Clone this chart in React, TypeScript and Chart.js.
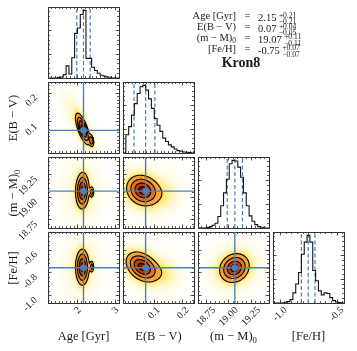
import React, { useEffect, useRef } from "react";
import { Chart, registerables } from "chart.js";

Chart.register(...registerables);

// ---------------- values ----------------
const AGE_RANGE = [1.2, 3.1];
const EBV_RANGE = [-0.007, 0.238];
const DM_RANGE = [18.66, 19.45];
const FEH_RANGE = [-1.065, -0.44];

const AGE_TICKS = [2, 3];
const EBV_TICKS = [0.1, 0.2];
const DM_TICKS = [18.75, 19.0, 19.25];
const FEH_TICKS = [-1.0, -0.8, -0.6];
const FEH_DIAG_TICKS = [-1.0, -0.5];
const HIST_TICKS = [0.35, 0.7];

const AGE_MINOR = 0.1;
const EBV_MINOR = 0.0125;
const DM_MINOR = 0.05;
const FEH_MINOR = 0.04;
const FEH_DIAG_MINOR = 0.05;
const HIST_MINOR = 0.07;
const HIST_YMAX = 1.05;

// 16th / 50th / 84th percentiles (dashed lines) ; median = cross-hair
const AGE_Q = [1.97, 2.15, 2.33];
const EBV_Q = [0.031, 0.071, 0.103];
const DM_Q = [18.985, 19.07, 19.155];
const FEH_Q = [-0.815, -0.755, -0.695];

// 1-D marginal histograms (25 bins, normalised to peak)
const AGE_HIST_RANGE = [1.228, 3.128];
const EBV_HIST_RANGE = [-0.007, 0.238];
const DM_HIST_RANGE = [18.66, 19.45];
const FEH_HIST_RANGE = [-1.065, -0.44];

const AGE_HIST = [0, 0, 0, 0.005, 0.015, 0.05, 0.18, 0.06, 0.3, 0.66, 0.74, 0.94, 1.0, 0.29, 0.29, 0.16, 0.11, 0.07, 0.04, 0.03, 0.015, 0.01, 0, 0, 0];
const EBV_HIST = [0, 0.27, 0.39, 0.56, 0.73, 0.88, 0.98, 1.0, 0.93, 0.8, 0.66, 0.51, 0.41, 0.32, 0.22, 0.17, 0.12, 0.09, 0.06, 0.035, 0.025, 0.015, 0.01, 0.005, 0];
const DM_HIST = [0, 0, 0, 0.005, 0.02, 0.04, 0.07, 0.17, 0.33, 0.52, 0.72, 0.95, 1.0, 0.99, 0.9, 0.75, 0.52, 0.33, 0.18, 0.1, 0.05, 0.02, 0.01, 0, 0];
const FEH_HIST = [0, 0, 0, 0, 0.01, 0.02, 0.05, 0.15, 0.28, 0.45, 0.72, 0.9, 1.0, 0.9, 0.48, 0.33, 0.18, 0.12, 0.15, 0.14, 0.08, 0.035, 0.015, 0.005, 0];

// 2-D posterior shapes: [meanX, meanY, sigmaX, sigmaY, rho, weight]
const AGE_EBV_COMP = [
  [2.13, 0.076, 0.088, 0.025, -0.7, 1.0],
  [2.36, 0.036, 0.035, 0.011, -0.3, 0.12],
  [2.0, 0.1, 0.25, 0.06, -0.8, 0.12],
];
const AGE_DM_COMP = [
  [2.12, 19.075, 0.08, 0.09, 0.05, 1.0],
  [2.37, 19.06, 0.028, 0.03, 0, 0.05],
  [2.1, 19.07, 0.3, 0.2, 0, 0.12],
];
const AGE_FEH_COMP = [
  [2.12, -0.75, 0.08, 0.07, 0, 1.0],
  [2.37, -0.745, 0.028, 0.025, 0, 0.05],
  [2.1, -0.75, 0.3, 0.15, 0, 0.12],
];
const EBV_DM_COMP = [
  [0.06, 19.08, 0.025, 0.077, -0.15, 1.0],
  [0.092, 19.05, 0.037, 0.085, -0.1, 0.18],
  [0.08, 19.06, 0.07, 0.18, -0.1, 0.08],
];
const EBV_FEH_COMP = [
  [0.058, -0.745, 0.025, 0.06, -0.35, 1.0],
  [0.092, -0.78, 0.037, 0.062, -0.3, 0.18],
  [0.08, -0.76, 0.07, 0.14, -0.3, 0.08],
];
const DM_FEH_COMP = [
  [19.065, -0.757, 0.075, 0.058, 0.15, 1.0],
  [19.07, -0.76, 0.17, 0.12, 0.1, 0.1],
];

const CONTOUR_LEVELS = [0.118, 0.393, 0.675, 0.865];

const PARAM_NAMES = ["Age [Gyr]", "E(B − V)", "(m − M)", "[Fe/H]"];
const PARAM_SUBS = ["", "", "0", ""];
const SUMMARY_VALUES = ["2.15", "0.07", "19.07", "-0.75"];
const SUMMARY_PLUS = ["+0.21", "+0.04", "+0.11", "+0.07"];
const SUMMARY_MINUS = ["−0.21", "−0.05", "−0.11", "−0.07"];
const CLUSTER_NAME = "Kron8";

// ---------------- styling / layout ----------------
const SERIF = "'Liberation Serif', 'Times New Roman', serif";
const TEXT = "#1a1a1a";
const BLUE = "#4a80bf";
const HIST_LINE = "#141414";
const SPINE = "#333333";
const CONTOUR = "#000000";
const FILL_RGB = [
  [107, 26, 7],
  [181, 64, 15],
  [226, 115, 31],
  [244, 164, 59],
];
const HALO_RGB = [255, 224, 72];

const S = 71;
const COL_X = [48, 123, 198, 273];
const ROW_Y = [7, 82, 157, 232];
const M = 4;
const LEFT_SPACE = 44;
const BOTTOM_SPACE = 30;
const LABEL_OVERFLOW = 16;

const VARS: any[] = [
  { range: AGE_RANGE, ticks: AGE_TICKS, minor: AGE_MINOR, diagTicks: AGE_TICKS, diagMinor: AGE_MINOR, q: AGE_Q, hist: AGE_HIST, histRange: AGE_HIST_RANGE, fmt: (v: number) => v.toFixed(0), xOff: 1.8 },
  { range: EBV_RANGE, ticks: EBV_TICKS, minor: EBV_MINOR, diagTicks: EBV_TICKS, diagMinor: EBV_MINOR, q: EBV_Q, hist: EBV_HIST, histRange: EBV_HIST_RANGE, fmt: (v: number) => v.toFixed(1), xOff: 4.4 },
  { range: DM_RANGE, ticks: DM_TICKS, minor: DM_MINOR, diagTicks: DM_TICKS, diagMinor: DM_MINOR, q: DM_Q, hist: DM_HIST, histRange: DM_HIST_RANGE, fmt: (v: number) => v.toFixed(2), xOff: 8 },
  { range: FEH_RANGE, ticks: FEH_TICKS, minor: FEH_MINOR, diagTicks: FEH_DIAG_TICKS, diagMinor: FEH_DIAG_MINOR, q: FEH_Q, hist: FEH_HIST, histRange: FEH_HIST_RANGE, fmt: (v: number) => v.toFixed(1), xOff: 5.3 },
];

const PAIR_COMPONENTS: any = {
  "01": AGE_EBV_COMP,
  "02": AGE_DM_COMP,
  "03": AGE_FEH_COMP,
  "12": EBV_DM_COMP,
  "13": EBV_FEH_COMP,
  "23": DM_FEH_COMP,
};

function minorTicks(range: number[], step: number) {
  const out: number[] = [];
  const k0 = Math.ceil(range[0] / step - 1e-9);
  const k1 = Math.floor(range[1] / step + 1e-9);
  for (let k = k0; k <= k1; k++) out.push(+(k * step).toFixed(6));
  return out;
}

function axis(key: string, position: string, range: number[], values: number[], len: number, weight: number, size: number, labels: any) {
  return {
    type: "linear",
    axis: key,
    position,
    min: range[0],
    max: range[1],
    bounds: "data",
    grace: 0,
    display: true,
    weight,
    offset: false,
    afterBuildTicks: (s: any) => {
      s.ticks = values.map((v) => ({ value: v }));
    },
    afterFit: (s: any) => {
      if (key === "x") s.height = size;
      else s.width = size;
      s.paddingLeft = 0;
      s.paddingRight = 0;
      s.paddingTop = 0;
      s.paddingBottom = 0;
    },
    grid: {
      display: true,
      drawOnChartArea: false,
      drawTicks: true,
      tickLength: -len,
      tickColor: SPINE,
      tickWidth: 0.8,
      color: "rgba(0,0,0,0)",
    },
    border: { display: weight === 1, color: SPINE, width: 1 },
    ticks: labels
      ? {
          display: true,
          autoSkip: false,
          minRotation: 45,
          maxRotation: 45,
          padding: labels.padding,
          labelOffset: labels.offset,
          color: TEXT,
          font: { family: SERIF, size: 10 },
          callback: (v: any) => labels.fmt(Number(v)),
        }
      : { display: false },
  };
}

function buildOptions(c: number, r: number, isHist: boolean, extraBottom: number) {
  const xv = VARS[c];
  const yv = VARS[r];
  const showX = r === 3;
  const showY = c === 0 && r > 0;
  const xTicks = isHist ? xv.diagTicks : xv.ticks;
  const xMinor = minorTicks(xv.range, isHist ? xv.diagMinor : xv.minor);
  const yRange = isHist ? [0, HIST_YMAX] : yv.range;
  const yTicks = isHist ? HIST_TICKS : yv.ticks;
  const yMinor = minorTicks(yRange, isHist ? HIST_MINOR : yv.minor);
  const xLab = showX ? { padding: 4.8, offset: xv.xOff, fmt: xv.fmt } : null;
  const yLab = showY ? { padding: 15.5, offset: 3, fmt: yv.fmt } : null;
  return {
    responsive: false,
    maintainAspectRatio: false,
    animation: false,
    events: [],
    layout: { padding: { left: M, right: M, top: M, bottom: M + extraBottom }, autoPadding: false },
    plugins: { legend: { display: false }, tooltip: { enabled: false }, title: { display: false } },
    scales: {
      x: axis("x", "bottom", xv.range, xTicks, 3.5, 1, showX ? BOTTOM_SPACE : 0, xLab),
      xm: axis("x", "bottom", xv.range, xMinor, 2, 0, 0, null),
      xt: axis("x", "top", xv.range, xTicks, 3.5, 1, 0, null),
      xtm: axis("x", "top", xv.range, xMinor, 2, 0, 0, null),
      y: axis("y", "left", yRange, yTicks, 3.5, 1, showY ? LEFT_SPACE : 0, yLab),
      ym: axis("y", "left", yRange, yMinor, 2, 0, 0, null),
      yr: axis("y", "right", yRange, yTicks, 3.5, 1, 0, null),
      yrm: axis("y", "right", yRange, yMinor, 2, 0, 0, null),
    },
  };
}

function mixDensity(comps: number[][], x: number, y: number) {
  let s = 0;
  for (const [mx, my, sx, sy, rho, w] of comps) {
    const dx = (x - mx) / sx;
    const dy = (y - my) / sy;
    const q = (dx * dx - 2 * rho * dx * dy + dy * dy) / (1 - rho * rho);
    s += (w * Math.exp(-0.5 * q)) / (sx * sy * Math.sqrt(1 - rho * rho));
  }
  return s;
}

function densityColor(d: number, thr: number[]) {
  for (let k = 0; k < 4; k++) if (d >= thr[k]) return FILL_RGB[k];
  const f = Math.pow(Math.max(d, 0) / thr[3], 0.7);
  return [255 + (HALO_RGB[0] - 255) * f, 255 + (HALO_RGB[1] - 255) * f, 255 + (HALO_RGB[2] - 255) * f];
}

function makeDensityPlugin(comps: number[][]) {
  let state: any = null;
  return {
    id: "densityField",
    beforeDraw(chart: any) {
      const area = chart.chartArea;
      const xs = chart.scales.x;
      const ys = chart.scales.y;
      const x0 = Math.round(area.left);
      const y0 = Math.round(area.top);
      const W = Math.round(area.right - area.left);
      const H = Math.round(area.bottom - area.top);
      const val = (px: number, py: number) => mixDensity(comps, xs.getValueForPixel(px), ys.getValueForPixel(py));
      const V = new Float64Array(W * H);
      for (let j = 0; j < H; j++) for (let i = 0; i < W; i++) V[j * W + i] = val(x0 + i + 0.5, y0 + j + 0.5);
      const sorted = Array.from(V).sort((a, b) => b - a);
      const total = sorted.reduce((a, b) => a + b, 0);
      const thr = CONTOUR_LEVELS.map((L) => {
        let cum = 0;
        for (const s of sorted) {
          cum += s;
          if (cum >= L * total) return s;
        }
        return sorted[sorted.length - 1];
      });
      const off = document.createElement("canvas");
      off.width = W;
      off.height = H;
      const octx = off.getContext("2d") as CanvasRenderingContext2D;
      const img = octx.createImageData(W, H);
      const SS = 3;
      for (let j = 0; j < H; j++) {
        for (let i = 0; i < W; i++) {
          let rr = 0, gg = 0, bb = 0;
          for (let sj = 0; sj < SS; sj++) {
            for (let si = 0; si < SS; si++) {
              const col = densityColor(val(x0 + i + (si + 0.5) / SS, y0 + j + (sj + 0.5) / SS), thr);
              rr += col[0];
              gg += col[1];
              bb += col[2];
            }
          }
          const p = (j * W + i) * 4;
          img.data[p] = rr / (SS * SS);
          img.data[p + 1] = gg / (SS * SS);
          img.data[p + 2] = bb / (SS * SS);
          img.data[p + 3] = 255;
        }
      }
      octx.putImageData(img, 0, 0);
      chart.ctx.drawImage(off, x0, y0);
      state = { V, W, H, x0, y0, thr };
    },
    beforeDatasetsDraw(chart: any) {
      if (!state) return;
      const { V, W, H, x0, y0, thr } = state;
      const area = chart.chartArea;
      const ctx = chart.ctx;
      ctx.save();
      ctx.beginPath();
      ctx.rect(area.left, area.top, area.right - area.left, area.bottom - area.top);
      ctx.clip();
      ctx.strokeStyle = CONTOUR;
      ctx.lineWidth = 1.1;
      ctx.lineCap = "round";
      ctx.lineJoin = "round";
      ctx.beginPath();
      const P = (gx: number, gy: number) => [x0 + gx + 0.5, y0 + gy + 0.5];
      const seg = (a: number[], b: number[]) => {
        const pa = P(a[0], a[1]);
        const pb = P(b[0], b[1]);
        ctx.moveTo(pa[0], pa[1]);
        ctx.lineTo(pb[0], pb[1]);
      };
      for (const lev of thr) {
        for (let j = 0; j < H - 1; j++) {
          for (let i = 0; i < W - 1; i++) {
            const a = V[j * W + i];
            const b = V[j * W + i + 1];
            const c = V[(j + 1) * W + i + 1];
            const d = V[(j + 1) * W + i];
            const idx = (a >= lev ? 8 : 0) | (b >= lev ? 4 : 0) | (c >= lev ? 2 : 0) | (d >= lev ? 1 : 0);
            if (idx === 0 || idx === 15) continue;
            const t = (v1: number, v2: number) => (lev - v1) / (v2 - v1);
            const top = [i + t(a, b), j];
            const right = [i + 1, j + t(b, c)];
            const bottom = [i + t(d, c), j + 1];
            const left = [i, j + t(a, d)];
            switch (idx) {
              case 1: case 14: seg(left, bottom); break;
              case 2: case 13: seg(bottom, right); break;
              case 3: case 12: seg(left, right); break;
              case 4: case 11: seg(top, right); break;
              case 5: seg(left, top); seg(bottom, right); break;
              case 10: seg(top, right); seg(left, bottom); break;
              case 6: case 9: seg(top, bottom); break;
              case 7: case 8: seg(left, top); break;
            }
          }
        }
      }
      ctx.stroke();
      ctx.restore();
    },
  };
}

function histConfig(c: number, extraBottom: number) {
  const v = VARS[c];
  const n = v.hist.length;
  const w = (v.histRange[1] - v.histRange[0]) / n;
  const edge = (k: number) => v.histRange[0] + k * w;
  const pts: any[] = [{ x: edge(0), y: 0 }];
  v.hist.forEach((h: number, k: number) => pts.push({ x: edge(k), y: h }));
  pts.push({ x: edge(n), y: 0 });
  const dashed = v.q.map((q: number) => ({
    data: [{ x: q, y: 0 }, { x: q, y: HIST_YMAX }],
    showLine: true,
    borderColor: BLUE,
    borderWidth: 1.2,
    borderDash: [4, 2.5],
    pointRadius: 0,
  }));
  return {
    type: "scatter",
    data: {
      datasets: [
        { data: pts, showLine: true, stepped: true, borderColor: HIST_LINE, borderWidth: 1.1, pointRadius: 0, fill: false },
        ...dashed,
      ],
    },
    options: buildOptions(c, c, true, extraBottom),
  };
}

function pairConfig(c: number, r: number, extraBottom: number) {
  const xv = VARS[c];
  const yv = VARS[r];
  const mx = xv.q[1];
  const my = yv.q[1];
  return {
    type: "scatter",
    data: {
      datasets: [
        { data: [{ x: mx, y: my }], pointRadius: 3.3, pointBackgroundColor: BLUE, pointBorderColor: BLUE, pointBorderWidth: 0, showLine: false },
        { data: [{ x: mx, y: yv.range[0] }, { x: mx, y: yv.range[1] }], showLine: true, borderColor: BLUE, borderWidth: 1.4, pointRadius: 0 },
        { data: [{ x: xv.range[0], y: my }, { x: xv.range[1], y: my }], showLine: true, borderColor: BLUE, borderWidth: 1.4, pointRadius: 0 },
      ],
    },
    options: buildOptions(c, r, false, extraBottom),
    plugins: [makeDensityPlugin(PAIR_COMPONENTS[`${c}${r}`])],
  };
}

function ChartCanvas({ build, left, top, width, height }: any) {
  const ref = useRef<HTMLCanvasElement | null>(null);
  useEffect(() => {
    const chart = new Chart(ref.current as HTMLCanvasElement, build());
    return () => chart.destroy();
  }, []);
  return <canvas ref={ref} width={width} height={height} style={{ position: "absolute", left, top, width, height }} />;
}

function Name({ i }: { i: number }) {
  return (
    <>
      {PARAM_NAMES[i]}
      {PARAM_SUBS[i] ? <span style={{ fontSize: "0.7em", position: "relative", top: "0.3em" }}>{PARAM_SUBS[i]}</span> : null}
    </>
  );
}

export default function App() {
  const panels: any[] = [];
  for (let r = 0; r < 4; r++) {
    for (let c = 0; c <= r; c++) {
      const L = c === 0 && r > 0 ? LEFT_SPACE : 0;
      const B = r === 3 ? BOTTOM_SPACE : 0;
      const extra = c === 0 && r > 0 && r < 3 ? LABEL_OVERFLOW : 0;
      panels.push(
        <ChartCanvas
          key={`${r}-${c}`}
          build={() => (r === c ? histConfig(c, extra) : pairConfig(c, r, extra))}
          left={COL_X[c] - L - M}
          top={ROW_Y[r] - M}
          width={S + L + 2 * M}
          height={S + B + 2 * M + extra}
        />
      );
    }
  }
  const baselines = [20, 30.8, 41.6, 52.4];
  return (
    <div style={{ position: "absolute", left: 0, top: 0, width: 357, height: 351, background: "#fff", overflow: "hidden", fontFamily: SERIF, color: TEXT }}>
      {panels}
      {[1, 2, 3].map((r) => (
        <div key={`yl${r}`} style={{ position: "absolute", left: 13, top: ROW_Y[r] + S / 2, transform: "translate(-50%, -50%) rotate(-90deg)", fontSize: 12.5, whiteSpace: "nowrap", lineHeight: "14px" }}>
          <Name i={r} />
        </div>
      ))}
      {[0, 1, 2, 3].map((c) => (
        <div key={`xl${c}`} style={{ position: "absolute", left: COL_X[c] + S / 2, top: 336, transform: "translate(-50%, -50%)", fontSize: 12.5, whiteSpace: "nowrap", lineHeight: "14px" }}>
          <Name i={c} />
        </div>
      ))}
      <div style={{ position: "absolute", left: 0, top: 0, width: 357, height: 70, willChange: "transform", transform: "translateZ(0)" }}>
        {baselines.map((b, i) => (
          <React.Fragment key={`sum${i}`}>
            <div style={{ position: "absolute", right: 357 - 236, top: b - 8.8, fontSize: 10.5, lineHeight: "10.5px", whiteSpace: "nowrap" }}>
              <Name i={i} />
            </div>
            <div style={{ position: "absolute", left: 244.5, top: b - 8.8, fontSize: 10.5, lineHeight: "10.5px" }}>=</div>
            <div style={{ position: "absolute", left: 258, top: b - 8.8, fontSize: 10.5, lineHeight: "10.5px", whiteSpace: "nowrap" }}>
              <span>{SUMMARY_VALUES[i]}</span>
              <span style={{ position: "relative", display: "inline-block", width: 20, height: 10 }}>
                <span style={{ position: "absolute", left: 2.5, top: 0.5, fontSize: 7.5, lineHeight: "7.5px" }}>{SUMMARY_PLUS[i]}</span>
                <span style={{ position: "absolute", left: 2.5, top: 7, fontSize: 7.5, lineHeight: "7.5px" }}>{SUMMARY_MINUS[i]}</span>
              </span>
            </div>
          </React.Fragment>
        ))}
        <div style={{ position: "absolute", left: 241, top: 56.3, transform: "translateX(-50%)", fontSize: 14, fontWeight: "bold", lineHeight: "14px", whiteSpace: "nowrap" }}>
          {CLUSTER_NAME}
        </div>
      </div>
    </div>
  );
}
